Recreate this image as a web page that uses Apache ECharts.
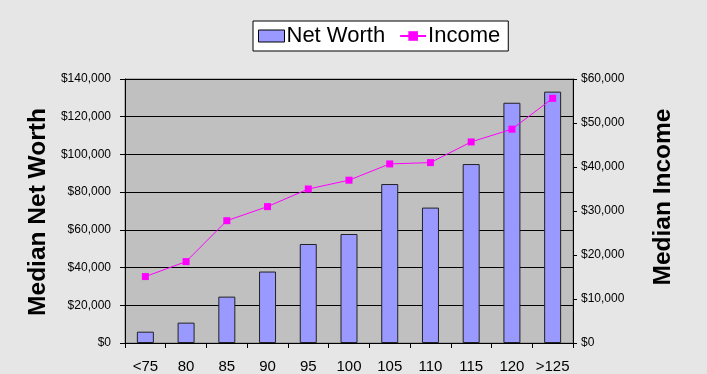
<!DOCTYPE html>
<html>
<head>
<meta charset="utf-8">
<script src="https://cdn.jsdelivr.net/npm/echarts@6/dist/echarts.min.js"></script>
<style>
html,body{margin:0;padding:0;background:#e6e6e6;}
#chart{width:707px;height:374px;}
</style>
</head>
<body>
<div id="chart"></div>
<script>
const categories = ['<75','80','85','90','95','100','105','110','115','120','>125'];
const netWorth = [6000, 10800, 24600, 37900, 52500, 57800, 84300, 71800, 94900, 127400, 133300];
const income = [15100, 18500, 27800, 31000, 35000, 37000, 40700, 41000, 45700, 48600, 55600];
const leftMax = 140000, leftStep = 20000;
const rightMax = 60000, rightStep = 10000;

function money(v){ return '$' + v.toLocaleString('en-US'); }

const chart = echarts.init(document.getElementById('chart'));
chart.setOption({
  backgroundColor: '#e6e6e6',
  animation: false,
  textStyle: { fontFamily: 'Liberation Sans, Arial, sans-serif' },
  legend: {
    top: 21, left: 253,
    backgroundColor: '#ffffff', borderColor: '#000', borderWidth: 1,
    padding: [4, 8, 4, 5],
    itemGap: 14, itemWidth: 26, itemHeight: 12,
    textStyle: { fontSize: 22, color: '#000', fontFamily: 'Liberation Sans, Arial, sans-serif', padding: [0,0,0,-3] },
    data: [
      { name: 'Net Worth', icon: 'rect', itemStyle: { color: '#9999ff', borderColor: '#000', borderWidth: 1 } },
      { name: 'Income' }
    ]
  },
  grid: { left: 125, right: 134, top: 79, bottom: 31, show: true, backgroundColor: '#c0c0c0', borderColor: '#808080', borderWidth: 1 },
  xAxis: {
    type: 'category', data: categories,
    axisLine: { lineStyle: { color: '#000' } },
    axisTick: { show: true, length: 5, lineStyle: { color: '#000' } },
    axisLabel: { fontSize: 15, color: '#000', margin: 16, interval: 0 }
  },
  yAxis: [
    {
      type: 'value', min: 0, max: leftMax, interval: leftStep,
      axisLine: { show: true, lineStyle: { color: '#000' } },
      axisTick: { show: true, length: 5, lineStyle: { color: '#000' } },
      axisLabel: { fontSize: 12, color: '#000', margin: 14, formatter: money },
      splitLine: { lineStyle: { color: '#000', width: 1 } }
    },
    {
      type: 'value', min: 0, max: rightMax, interval: rightStep, position: 'right',
      axisLine: { show: true, lineStyle: { color: '#000' } },
      axisTick: { show: true, length: 4, lineStyle: { color: '#000' } },
      axisLabel: { fontSize: 12, color: '#000', margin: 8, formatter: money },
      splitLine: { show: false }
    }
  ],
  graphic: [
    { type: 'text', x: 38, y: 212, rotation: Math.PI/2,
      style: { text: 'Median Net Worth', fontSize: 24.5, fontWeight: 'bold', fill: '#000', align: 'center', verticalAlign: 'middle', fontFamily: 'Liberation Sans, Arial, sans-serif' } },
    { type: 'text', x: 663, y: 197, rotation: Math.PI/2,
      style: { text: 'Median Income', fontSize: 24.5, fontWeight: 'bold', fill: '#000', align: 'center', verticalAlign: 'middle', fontFamily: 'Liberation Sans, Arial, sans-serif' } }
  ],
  series: [
    {
      name: 'Net Worth', type: 'bar', data: netWorth, yAxisIndex: 0,
      barWidth: 17,
      itemStyle: { color: '#9999ff', borderColor: '#222', borderWidth: 1 }
    },
    {
      name: 'Income', type: 'line', data: income, yAxisIndex: 1,
      symbol: 'rect', symbolSize: 7,
      lineStyle: { color: '#ff00ff', width: 1 },
      itemStyle: { color: '#ff00ff' }
    }
  ]
});
</script>
</body>
</html>
